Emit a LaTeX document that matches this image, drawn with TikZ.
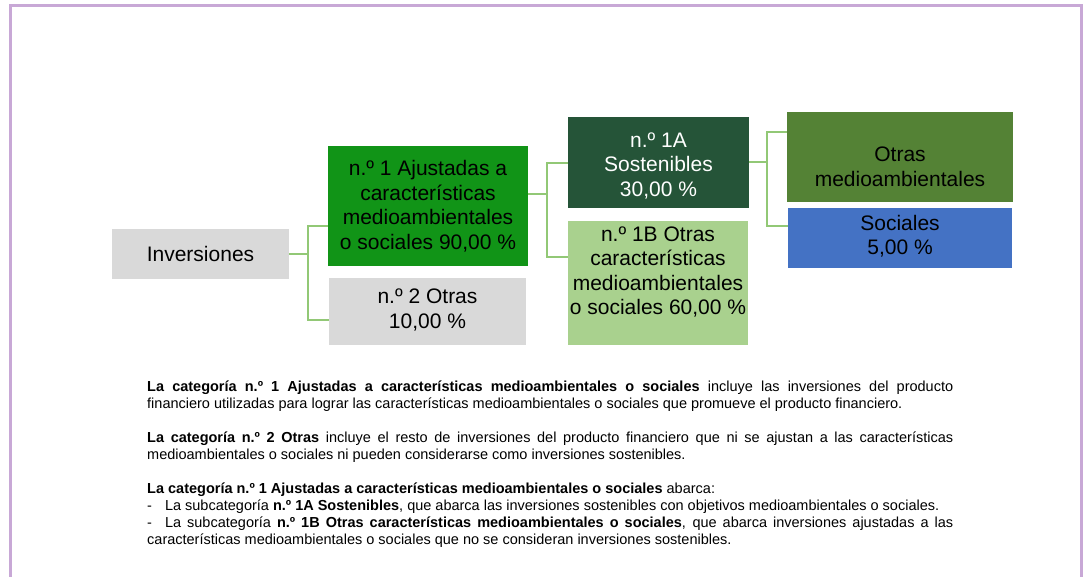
\documentclass[tikz,border=0pt]{standalone}
\usepackage{fontspec}
\setmainfont{Liberation Sans}
\usetikzlibrary{calc}
\definecolor{framecol}{RGB}{200,168,214}
\definecolor{greybox}{RGB}{217,217,217}
\definecolor{greenA}{RGB}{17,148,23}
\definecolor{darkgreen}{RGB}{37,84,56}
\definecolor{lightgreen}{RGB}{169,209,142}
\definecolor{midgreen}{RGB}{84,130,53}
\definecolor{socblue}{RGB}{68,114,196}
\definecolor{conncol}{RGB}{146,200,118}
\tikzset{
  boxnode/.style={draw=none, inner sep=0pt, outer sep=0pt},
  boxtext/.style={inner sep=0pt, align=center, font=\fontsize{21}{24.5}\selectfont},
  conn/.style={draw=conncol, line width=2.5pt, line join=miter},
}
\begin{document}
\begin{tikzpicture}[x=1pt,y=-1pt]
\useasboundingbox[fill=white] (0,0) rectangle (1083,576);
% frame
\draw[framecol, line width=3pt] (10,577) -- (10,5) -- (1081,5) -- (1081,577);

% boxes
\node[boxnode, fill=greybox, minimum width=177pt, minimum height=50pt] (inv) at (200.5,254) {};
\node[boxnode, fill=greenA, minimum width=200pt, minimum height=120pt] (c1) at (428,206) {};
\node[boxnode, fill=greybox, minimum width=197pt, minimum height=67pt] (c2) at (427.5,311.5) {};
\node[boxnode, fill=darkgreen, minimum width=181pt, minimum height=91pt] (c1a) at (658.5,162.5) {};
\node[boxnode, fill=lightgreen, minimum width=180pt, minimum height=124pt] (c1b) at (658,283) {};
\node[boxnode, fill=midgreen, minimum width=226pt, minimum height=90pt] (om) at (900,157) {};
\node[boxnode, fill=socblue, minimum width=224pt, minimum height=60pt] (soc) at (900,238) {};

% texts
\node[boxtext] (tinv) at ($(inv.center)+(0,0)$) {Inversiones};
\node[boxtext] (tc1) at ($(c1.center)+(0,0)$) {n.º 1 Ajustadas a\\características\\medioambientales\\o sociales 90,00 \%};
\node[boxtext] (tc2) at ($(c2.center)+(0,-1.5)$) {n.º 2 Otras\\10,00 \%};
\node[boxtext, text=white] (tc1a) at ($(c1a.center)+(0,3)$) {n.º 1A\\Sostenibles\\30,00 \%};
\node[boxtext] (tc1b) at ($(c1b.center)+(0,-11)$) {n.º 1B Otras\\características\\medioambientales\\o sociales 60,00 \%};
\node[boxtext] (tom) at ($(om.center)+(0,10)$) {Otras\\medioambientales};
\node[boxtext] (tsoc) at ($(soc.center)+(0,-2)$) {Sociales\\5,00 \%};

% connectors
\coordinate (j1) at (308,254);
\draw[conn] (inv.east) -- (j1);
\draw[conn] (c1.west |- 0,226) -| (j1) |- (c2.west |- 0,320);
\coordinate (j2) at (547,194);
\draw[conn] (c1.east |- j2) -- (j2);
\draw[conn] (c1a.west |- 0,163) -| (j2) |- (c1b.west |- 0,257);
\coordinate (j3) at (767,162);
\draw[conn] (c1a.east |- j3) -- (j3);
\draw[conn] (om.west |- 0,132) -| (j3) |- (soc.west |- 0,226);

% description
\node[anchor=north west, inner sep=0pt, text width=806pt, align=justify,
      font=\fontsize{14.5}{17}\selectfont] (desc) at (147,381) {%
\hyphenpenalty=10000\exhyphenpenalty=10000\tolerance=9999\emergencystretch=20pt\parindent=0pt
\textbf{La categoría n.º 1 Ajustadas a características medioambientales o sociales} incluye las inversiones del producto\linebreak financiero utilizadas para lograr las características medioambientales o sociales que promueve el producto financiero.\par
\vspace{17pt}
\textbf{La categoría n.º 2 Otras} incluye el resto de inversiones del producto financiero que ni se ajustan a las características\linebreak medioambientales o sociales ni pueden considerarse como inversiones sostenibles.\par
\vspace{17pt}
\textbf{La categoría n.º 1 Ajustadas a características medioambientales o sociales} abarca:\par
-\hspace{13pt}La subcategoría \textbf{n.º 1A Sostenibles}, que abarca las inversiones sostenibles con objetivos medioambientales o sociales.\par
-\hspace{13pt}La subcategoría \textbf{n.º 1B Otras características medioambientales o sociales}, que abarca inversiones ajustadas a las\linebreak características medioambientales o sociales que no se consideran inversiones sostenibles.\par
};
\end{tikzpicture}
\end{document}
